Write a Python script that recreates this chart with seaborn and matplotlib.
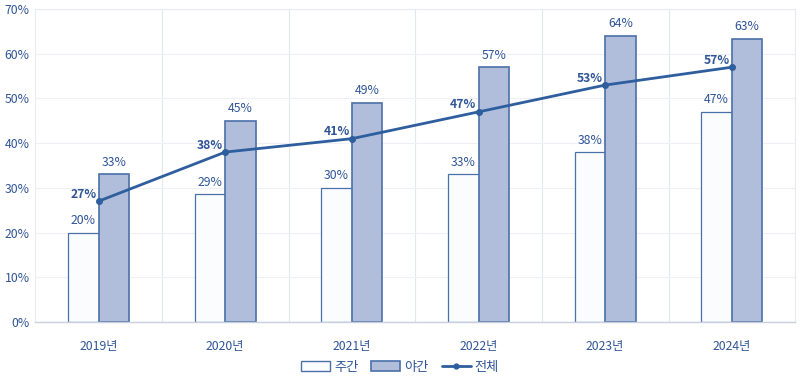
import matplotlib
matplotlib.use("Agg")
import matplotlib.pyplot as plt
import seaborn as sns
import pandas as pd
from matplotlib.patches import Patch
from matplotlib.lines import Line2D

years = ["2019년", "2020년", "2021년", "2022년", "2023년", "2024년"]
day = [20, 28.6, 30, 33, 38, 47]
night = [33, 45, 49, 57, 64, 63.4]
total = [27, 38, 41, 47, 53, 57]
series_names = ["주간", "야간", "전체"]
yticks = [0, 10, 20, 30, 40, 50, 60, 70]

sns.set_theme(style="white")
plt.rcParams["font.family"] = ["Noto Sans CJK KR", "DejaVu Sans"]

text_c = "#2F5597"
line_c = "#2E5E9E"
edge_c = "#4A70A8"
night_c = "#B0BEDC"
day_c = "#FBFCFE"

df = pd.DataFrame({
    "year": years * 2,
    "value": day + night,
    "series": [series_names[0]] * len(years) + [series_names[1]] * len(years),
})

fig = plt.figure(figsize=(8, 3.8), dpi=100)
ax = fig.add_axes([0.044, 0.153, 0.950, 0.823])

sns.barplot(data=df, x="year", y="value", hue="series", order=years,
            hue_order=series_names[:2], palette=[day_c, night_c],
            width=0.48, ax=ax, legend=False, saturation=1)

for i, cont in enumerate(ax.containers):
    for p in cont:
        p.set_edgecolor(edge_c)
        p.set_linewidth(0.9 if i == 0 else 1.2)
    ax.bar_label(cont, labels=[f"{v:.0f}%" for v in (day if i == 0 else night)],
                 padding=4, color=text_c, fontsize=8.8)

sns.pointplot(x=years, y=total, order=years, color=line_c, markers="o",
              markersize=3.5, linewidth=2, ax=ax, errorbar=None)

for i, v in enumerate(total):
    ax.annotate(f"{v}%", (i, v), xytext=(-11, 5), textcoords="offset points",
                ha="center", va="center", color=text_c, fontsize=8.8,
                fontweight="bold")

ax.set_xlim(-0.5, len(years) - 0.5)
ax.set_ylim(0, 70)
ax.set_yticks(yticks)
ax.set_yticklabels([f"{t}%" for t in yticks])
ax.set_xticks(range(len(years)))
ax.set_xticklabels(years)
ax.set_xticks([i + 0.5 for i in range(len(years) - 1)], minor=True)
ax.tick_params(axis="x", which="major", length=0, pad=13, colors=text_c, labelsize=8.8)
ax.tick_params(axis="x", which="minor", length=0)
ax.tick_params(axis="y", length=0, pad=4, colors=text_c, labelsize=8.8)
ax.set_xlabel("")
ax.set_ylabel("")

ax.yaxis.grid(True, color="#EEF0F6", linewidth=0.8)
ax.xaxis.grid(True, which="minor", color="#E2E6F0", linewidth=0.8)
ax.set_axisbelow(True)
for s in ["top", "left", "right"]:
    ax.spines[s].set_color("#E8EBF3")
    ax.spines[s].set_linewidth(0.8)
ax.spines["bottom"].set_color("#C9CFDD")
ax.spines["bottom"].set_linewidth(1)

handles = [
    Patch(facecolor=day_c, edgecolor=edge_c, linewidth=1),
    Patch(facecolor=night_c, edgecolor=edge_c, linewidth=1.2),
    Line2D([0], [0], color=line_c, linewidth=2, marker="o", markersize=3.5),
]
leg = fig.legend(handles, series_names, loc="center", bbox_to_anchor=(0.5, 0.033),
                 ncol=3, frameon=False, fontsize=9.5, handlelength=2.2,
                 handleheight=0.8, columnspacing=1.0, handletextpad=0.3)
for t in leg.get_texts():
    t.set_color(text_c)

fig.savefig("out.png", dpi=100)
